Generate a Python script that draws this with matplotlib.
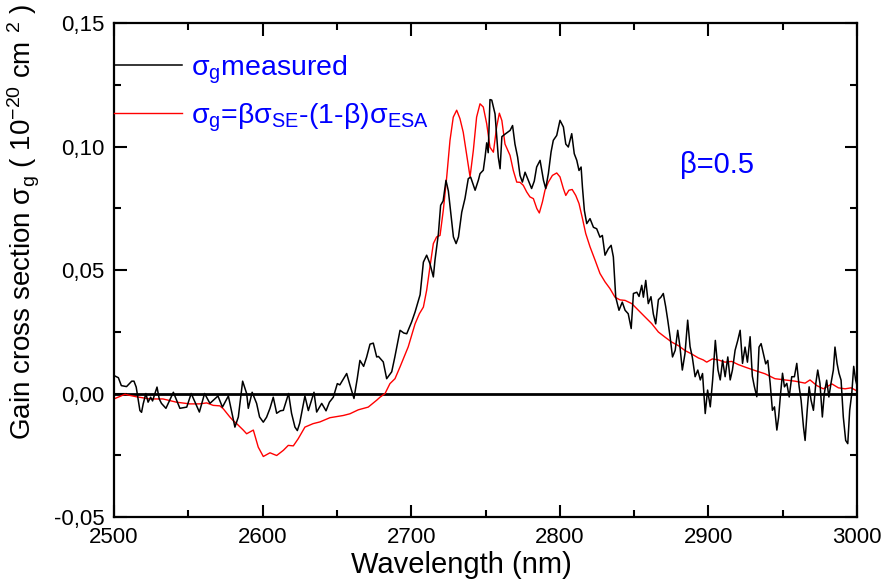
import numpy as np
import matplotlib
matplotlib.use("Agg")
import matplotlib.pyplot as plt
from matplotlib.ticker import MultipleLocator, FuncFormatter

plt.rcParams['font.family'] = ['Liberation Sans', 'DejaVu Sans']
plt.rcParams['mathtext.fontset'] = 'custom'
plt.rcParams['mathtext.rm'] = 'Liberation Sans'
plt.rcParams['mathtext.it'] = 'Liberation Sans'
plt.rcParams['mathtext.bf'] = 'Liberation Sans:bold'

# measured gain cross section (nm, 1e-20 cm^2)
wl_meas = [
    2500, 2503, 2505, 2508.5, 2512, 2513.5, 2515, 2517.5, 2518.6, 2519.7,
    2521.5, 2523, 2524.7, 2526, 2527.6, 2529, 2530.5, 2532, 2535, 2540,
    2544.4, 2549, 2552, 2557.5, 2561, 2564.6, 2570, 2573, 2577, 2581.4,
    2583.7, 2586.6, 2589.3, 2590.4, 2593, 2596, 2598, 2600.5, 2602.7, 2605,
    2607.2, 2609.5, 2612, 2614, 2616.2, 2617.5, 2619.5, 2621.8, 2623.4, 2625,
    2628.5, 2630.8, 2634.6, 2636.4, 2639.8, 2642.7, 2645, 2647.6, 2650.3, 2652,
    2656.6, 2658.8, 2661.5, 2663.7, 2665.5, 2668, 2670, 2672.3, 2674.5, 2676.8,
    2678, 2681.2, 2683.5, 2686.9, 2689, 2692.5, 2695, 2697, 2700.3, 2702.6,
    2706, 2708.2, 2710.4, 2712.6, 2714.9, 2716, 2718.3, 2719.8, 2721.5, 2723.4,
    2725, 2728.4, 2730.2, 2731.8, 2734, 2736.2, 2738.4, 2740, 2743, 2745.2,
    2746.3, 2748.5, 2749.7, 2750.8, 2751.8, 2753, 2754.2, 2756.4, 2758.6, 2759.8,
    2761, 2763.1, 2766.5, 2768.2, 2769.8, 2771.6, 2773.2, 2774.8, 2776.6, 2778.8,
    2781, 2782.8, 2784.4, 2786.7, 2789, 2790.5, 2792.3, 2794.1, 2795.6, 2797.9,
    2800.1, 2802.4, 2804, 2805.7, 2808, 2809.7, 2811.4, 2812.9, 2814.3, 2815.2,
    2816.5, 2818.1, 2820.3, 2822.6, 2824.8, 2827, 2828.6, 2830.4, 2832.6, 2834.5,
    2836, 2837.6, 2839.8, 2842, 2843.9, 2846, 2848, 2849.5, 2851.8, 2853.3,
    2855.1, 2856.2, 2857.8, 2859.5, 2861.3, 2862.9, 2864.5, 2866.3, 2868, 2869.6,
    2871.2, 2872.6, 2874.2, 2875.8, 2877.6, 2879.3, 2880.8, 2882.4, 2884.2, 2886,
    2887.6, 2889.1, 2891, 2892.8, 2894.5, 2896, 2897.8, 2899.4, 2901.2, 2902.8,
    2904.6, 2906.4, 2907.9, 2909.5, 2911.2, 2913, 2914.6, 2916.1, 2917.9, 2919.7,
    2921.3, 2922.9, 2924.6, 2926.2, 2928, 2929.5, 2930.8, 2932.5, 2934, 2935.4,
    2937, 2938.5, 2939.9, 2941.5, 2943, 2944.4, 2946, 2947.2, 2948.3, 2949.8,
    2951.1, 2952.7, 2954.3, 2956, 2957.8, 2959.4, 2961, 2962.3, 2963.9, 2965,
    2966.4, 2967.7, 2969, 2970.6, 2972.2, 2973.5, 2975, 2976.6, 2977.9, 2979.5,
    2981, 2982.4, 2984, 2985.1, 2986.5, 2987.8, 2989.2, 2990.7, 2992.3, 2993.7,
    2995, 2996.4, 2997.7, 2999, 3000,
]
sg_meas = [
    0.0073, 0.0064, 0.0032, 0.0028, 0.0050, 0.0050, 0.0026, -0.0069, -0.0076, -0.0042,
    0.0000, -0.0035, -0.0015, -0.0030, 0.0000, 0.0026, -0.0022, -0.0040, -0.0060, 0.0005,
    -0.0060, -0.0055, 0.0000, -0.0075, 0.0000, -0.0040, -0.0010, -0.0055, -0.0010, -0.0136,
    -0.0095, 0.0050, 0.0000, -0.0060, 0.0005, -0.0040, -0.0095, -0.0116, -0.0096, -0.0060,
    -0.0015, -0.0080, -0.0070, -0.0068, -0.0026, 0.0000, -0.0080, -0.0136, -0.0150, -0.0120,
    -0.0010, -0.0069, 0.0005, -0.0075, -0.0040, -0.0070, -0.0035, -0.0015, 0.0040, 0.0035,
    0.0081, 0.0034, -0.0020, 0.0060, 0.0134, 0.0110, 0.0147, 0.0200, 0.0204, 0.0148,
    0.0150, 0.0128, 0.0060, 0.0088, 0.0148, 0.0256, 0.0245, 0.0242, 0.0290, 0.0330,
    0.0400, 0.0532, 0.0560, 0.0526, 0.0472, 0.0540, 0.0647, 0.0762, 0.0780, 0.0863,
    0.0820, 0.0634, 0.0607, 0.0634, 0.0734, 0.0790, 0.0870, 0.0876, 0.0823, 0.0864,
    0.0890, 0.0904, 0.0957, 0.1015, 0.0975, 0.1190, 0.1188, 0.1132, 0.0957, 0.0910,
    0.1040, 0.1050, 0.1065, 0.1085, 0.1010, 0.0957, 0.0883, 0.0856, 0.0896, 0.0863,
    0.0830, 0.0860, 0.0917, 0.0944, 0.0863, 0.0830, 0.0891, 0.0978, 0.1025, 0.1045,
    0.1106, 0.1079, 0.1010, 0.0998, 0.1052, 0.0971, 0.0944, 0.0903, 0.0917, 0.0836,
    0.0741, 0.0688, 0.0708, 0.0673, 0.0667, 0.0633, 0.0640, 0.0560, 0.0586, 0.0600,
    0.0553, 0.0390, 0.0337, 0.0370, 0.0337, 0.0323, 0.0263, 0.0405, 0.0410, 0.0393,
    0.0438, 0.0390, 0.0458, 0.0364, 0.0392, 0.0322, 0.0282, 0.0380, 0.0390, 0.0405,
    0.0352, 0.0297, 0.0228, 0.0148, 0.0175, 0.0256, 0.0190, 0.0095, 0.0162, 0.0297,
    0.0190, 0.0148, 0.0068, 0.0095, 0.0055, 0.0081, -0.0081, 0.0014, -0.0054, 0.0055,
    0.0215, 0.0095, 0.0055, 0.0135, 0.0068, 0.0148, 0.0055, 0.0095, 0.0175, 0.0215,
    0.0256, 0.0122, 0.0188, 0.0127, 0.0230, 0.0070, 0.0030, -0.0013, 0.0188, 0.0202,
    0.0160, 0.0120, 0.0134, 0.0041, -0.0068, -0.0054, -0.0148, -0.0095, -0.0014, 0.0082,
    0.0027, 0.0041, -0.0014, 0.0068, 0.0068, 0.0122, 0.0027, -0.0027, -0.0135, -0.0190,
    -0.0068, 0.0027, -0.0027, -0.0068, 0.0041, 0.0095, 0.0041, -0.0095, 0.0000, 0.0054,
    -0.0014, 0.0041, 0.0095, 0.0188, 0.0122, 0.0082, 0.0054, -0.0095, -0.0190, -0.0203,
    -0.0068, 0.0000, 0.0110, 0.0054, 0.0030,
]

# calculated sigma_g = b*sigma_SE - (1-b)*sigma_ESA, b = 0.5
wl_calc = [
    2500, 2504, 2507.4, 2511, 2515, 2524, 2533, 2542, 2551, 2557.5,
    2562.4, 2566.8, 2571.3, 2573.6, 2578, 2580.3, 2582.6, 2587, 2589.3, 2593.8,
    2597.1, 2600.5, 2605, 2609.5, 2614, 2617.3, 2620.7, 2624, 2628.5, 2634,
    2638.6, 2645.3, 2654.3, 2658.8, 2664.4, 2671.1, 2676.8, 2679, 2682.4, 2685.7,
    2689.1, 2692.5, 2698, 2702.6, 2705.5, 2708.2, 2710.4, 2712.6, 2714.9, 2717.1,
    2719.4, 2721.6, 2723.9, 2726.1, 2728.3, 2730.6, 2732.8, 2735, 2736.9, 2739.6,
    2741.8, 2744, 2746.3, 2748.5, 2750.8, 2753, 2755.3, 2757.5, 2759.3, 2761,
    2763.1, 2766.5, 2768.7, 2771, 2773.2, 2775.4, 2777.7, 2779.9, 2782.2, 2784.5,
    2786.2, 2788.3, 2790, 2792.3, 2795, 2797.9, 2800.1, 2802.4, 2804, 2806.1,
    2808.3, 2810.7, 2812.9, 2815.2, 2817.4, 2820.3, 2823.7, 2827, 2830.4, 2833.7,
    2837.1, 2840.5, 2843.9, 2848.4, 2852.8, 2857.3, 2861.8, 2866.3, 2870.8, 2875.3,
    2879.7, 2884.2, 2888.7, 2893.2, 2896.5, 2898.8, 2902.6, 2906.6, 2911.1, 2915.6,
    2920.1, 2924.6, 2931.3, 2938, 2944.7, 2951.5, 2958.2, 2965, 2968.3, 2972.9,
    2977.3, 2983, 2987.4, 2991.9, 2996, 3000,
]
sg_calc = [
    -0.0022, -0.0012, -0.0003, -0.0008, -0.0013, -0.0022, -0.0022, -0.0035, -0.0042, -0.0042,
    -0.0038, -0.0048, -0.0050, -0.0062, -0.0095, -0.0110, -0.0122, -0.0148, -0.0163, -0.0148,
    -0.0217, -0.0255, -0.0240, -0.0251, -0.0230, -0.0210, -0.0212, -0.0183, -0.0136, -0.0122,
    -0.0115, -0.0098, -0.0089, -0.0082, -0.0066, -0.0055, -0.0027, -0.0015, 0.0000, 0.0040,
    0.0060, 0.0108, 0.0189, 0.0282, 0.0323, 0.0350, 0.0418, 0.0512, 0.0607, 0.0634,
    0.0640, 0.0742, 0.0877, 0.1025, 0.1119, 0.1147, 0.1113, 0.1058, 0.0984, 0.0877,
    0.0984, 0.1119, 0.1173, 0.1160, 0.1092, 0.0997, 0.0977, 0.1080, 0.1135, 0.1105,
    0.1010, 0.0964, 0.0903, 0.0856, 0.0855, 0.0843, 0.0816, 0.0796, 0.0789, 0.0749,
    0.0731, 0.0776, 0.0823, 0.0856, 0.0883, 0.0893, 0.0877, 0.0829, 0.0802, 0.0823,
    0.0826, 0.0802, 0.0769, 0.0709, 0.0648, 0.0594, 0.0540, 0.0486, 0.0452, 0.0425,
    0.0390, 0.0379, 0.0377, 0.0364, 0.0337, 0.0310, 0.0283, 0.0249, 0.0228, 0.0208,
    0.0194, 0.0174, 0.0160, 0.0144, 0.0136, 0.0127, 0.0140, 0.0136, 0.0127, 0.0130,
    0.0117, 0.0107, 0.0093, 0.0080, 0.0060, 0.0055, 0.0050, 0.0042, 0.0055, 0.0032,
    0.0019, 0.0039, 0.0023, 0.0019, 0.0023, 0.0010,
]

fig = plt.figure(figsize=(8.83, 5.8), dpi=100)
ax = fig.add_axes([0.129, 0.1086, 0.8417, 0.8517])

ax.axhline(0, color='black', lw=2.0, zorder=1)
ax.plot(wl_meas, sg_meas, color='black', lw=1.1, label=r'σ$_{\mathrm{g}}$measured', zorder=3)
ax.plot(wl_calc, sg_calc, color='red', lw=1.0,
        label=r'σ$_{\mathrm{g}}$=βσ$_{\mathrm{SE}}$-(1-β)σ$_{\mathrm{ESA}}$', zorder=2)

ax.set_xlim(2500, 3000)
ax.set_ylim(-0.05, 0.15)
ax.xaxis.set_major_locator(MultipleLocator(100))
ax.xaxis.set_minor_locator(MultipleLocator(50))
ax.yaxis.set_major_locator(MultipleLocator(0.05))
ax.yaxis.set_minor_locator(MultipleLocator(0.025))
ax.yaxis.set_major_formatter(FuncFormatter(lambda v, p: f'{v:.2f}'.replace('.', ',')))

ax.tick_params(which='both', direction='in', top=True, right=True, width=1.5, labelsize=16)
ax.tick_params(which='major', length=9, pad=7)
ax.tick_params(which='minor', length=5)
for sp in ax.spines.values():
    sp.set_linewidth(1.6)

ax.set_xlabel('Wavelength (nm)', fontsize=21)
ax.xaxis.set_label_coords(0.468, -0.068)
ax.set_ylabel(r'Gain cross section σ$_{\mathrm{g}}$ ( 10$^{\mathrm{-20}}$ cm $^{\mathrm{2}}$ )', fontsize=20)
ax.yaxis.set_label_coords(-0.097, 0.597)

ax.legend(loc='upper left', bbox_to_anchor=(0, 0.938), frameon=False, fontsize=20.5,
          labelcolor='blue', borderaxespad=0, borderpad=0, handlelength=2.4,
          handletextpad=0.3, labelspacing=0.55)

ax.text(0.762, 0.696, 'β=0.5', transform=ax.transAxes, color='blue', fontsize=21,
        va='baseline')

fig.savefig('out.png', dpi=100)
